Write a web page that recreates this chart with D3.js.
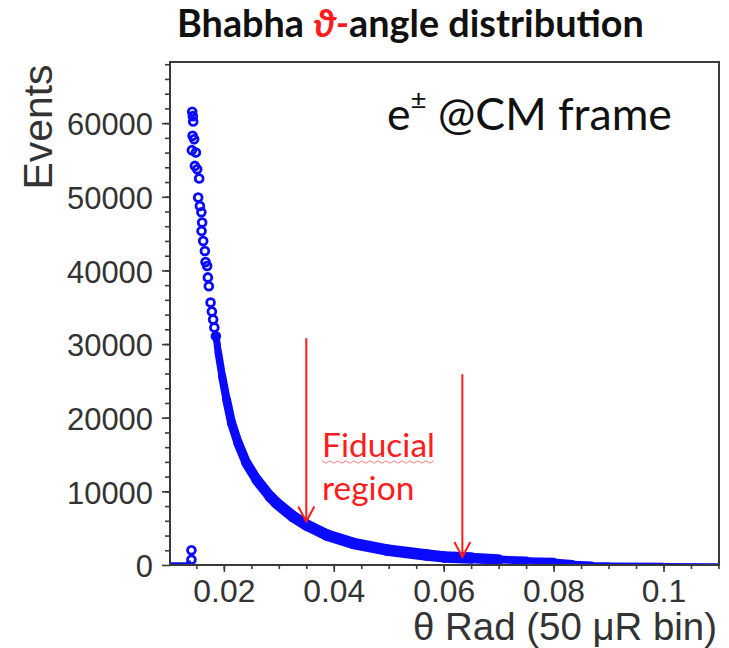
<!DOCTYPE html>
<html>
<head>
<meta charset="utf-8">
<script src="https://cdn.jsdelivr.net/npm/d3@7"></script>
<style>
  body { margin: 0; background: #fff; }
  svg { display: block; }
</style>
</head>
<body>
<svg id="chart" width="729" height="648"></svg>
<script>
// sparse points at the top of the peak (theta rad, events)
const peakPoints = [
  [0.01424, 61540], [0.01436, 60950], [0.01442, 60230], [0.01431, 58270],
  [0.01460, 57820], [0.01418, 56330], [0.01491, 56010], [0.01473, 54190],
  [0.01515, 53740], [0.01551, 52480], [0.01533, 49890], [0.01564, 48750],
  [0.01591, 47890], [0.01605, 46490], [0.01594, 45350], [0.01624, 43990],
  [0.01655, 42630], [0.01667, 41130], [0.01696, 40590], [0.01709, 39050],
  [0.01727, 37860], [0.01758, 35650], [0.01782, 34420], [0.01805, 33330],
  [0.01827, 32240], [0.01855, 31060]
];
// dense band of bins after the peak
const bandPoints = [
  [0.0186, 31000], [0.0190, 28800], [0.0197, 25600], [0.0205, 22450],
  [0.0214, 19300], [0.0226, 16550], [0.0241, 13850], [0.0260, 11550],
  [0.0284, 9300], [0.0296, 8400], [0.0326, 6570], [0.0350, 5440],
  [0.0387, 4080], [0.0435, 2950], [0.0496, 2040], [0.0569, 1360],
  [0.0600, 1100], [0.0650, 950], [0.0700, 750], [0.0750, 610],
  [0.0800, 520], [0.0835, 340], [0.0870, 220], [0.0900, 190],
  [0.1000, 130], [0.1100, 100]
];
// low bins before the peak
const lowBins = [[0.0103, 200], [0.0132, 250], [0.0140, 500]];
const lonePoints = [[0.0141, 2000], [0.0141, 700]];
// fiducial region arrows
const arrows = [
  { theta: 0.0350, top: 30800, tip: 5900 },
  { theta: 0.0634, top: 25900, tip: 1090 }
];
const yTicks = [0, 10000, 20000, 30000, 40000, 50000, 60000];
const xTicks = [0.02, 0.04, 0.06, 0.08, 0.1];

const svg = d3.select("#chart");
const m = { left: 170, right: 719, top: 62, bottom: 565 };

const x = d3.scaleLinear().domain([0.0102, 0.1101]).range([m.left, m.right]);
const y = d3.scaleLinear().domain([0, 68300]).range([m.bottom, m.top]);
const blue = "#0a0aff";
const red = "#ff1c1c";
const axisColor = "#3a3a3a";

// fit a text element to a target width
function fit(text, width) {
  const size = +text.attr("font-size");
  const len = text.node().getComputedTextLength();
  text.attr("font-size", (size * width) / len);
  return (size * width) / len;
}

svg.append("defs").append("clipPath").attr("id", "plot")
  .append("rect").attr("x", m.left).attr("y", m.top)
  .attr("width", m.right - m.left).attr("height", m.bottom - m.top);

// title
const title = svg.append("text")
  .attr("x", 177).attr("y", 37)
  .attr("font-family", "Lato, 'Open Sans', sans-serif")
  .attr("font-weight", "bold").attr("font-size", 30).attr("fill", "#111");
title.append("tspan").text("Bhabha ");
title.append("tspan").attr("fill", red).attr("font-style", "italic").text("ϑ-");
title.append("tspan").text("angle distribution");
fit(title, 467);

// data marks
const g = svg.append("g").attr("clip-path", "url(#plot)");
const width = d3.scaleLinear()
  .domain([0.0186, 0.021, 0.03, 0.066, 0.072, 0.08, 0.084, 0.088, 0.11])
  .range([7, 9, 11.5, 11.5, 8, 6, 4, 2.5, 2]);
const line = d3.line().x(d => x(d[0])).y(d => y(d[1]));

g.append("path").datum(lowBins)
  .attr("d", line).attr("fill", "none")
  .attr("stroke", blue).attr("stroke-width", 2.5);

g.selectAll("path.band")
  .data(d3.pairs(bandPoints))
  .join("path").attr("class", "band")
  .attr("d", line).attr("fill", "none")
  .attr("stroke", blue).attr("stroke-linecap", "round")
  .attr("stroke-width", d => width((d[0][0] + d[1][0]) / 2));

g.selectAll("circle.pt")
  .data(peakPoints.concat(lonePoints))
  .join("circle").attr("class", "pt")
  .attr("cx", d => x(d[0])).attr("cy", d => y(d[1]))
  .attr("r", 3.9).attr("fill", "none")
  .attr("stroke", blue).attr("stroke-width", 2.8);

// axes
const axisFont = "'Liberation Sans', Arial, sans-serif";
const yAxis = svg.append("g").attr("transform", `translate(${m.left},0)`)
  .call(d3.axisLeft(y).tickValues(yTicks).tickSize(8).tickPadding(9)
    .tickFormat(d3.format("d")));
svg.append("g").attr("transform", `translate(${m.left},0)`)
  .call(d3.axisLeft(y).tickValues(d3.range(2000, 68001, 2000)).tickSize(5)
    .tickFormat(""));
const xAxis = svg.append("g").attr("transform", `translate(0,${m.bottom})`)
  .call(d3.axisBottom(x).tickValues(xTicks).tickSize(7).tickPadding(7)
    .tickFormat(d => String(+d.toFixed(2))));
svg.append("g").attr("transform", `translate(0,${m.bottom})`)
  .call(d3.axisBottom(x).tickValues(d3.range(0.015, 0.1101, 0.005)).tickSize(4)
    .tickFormat(""));

svg.selectAll(".domain").remove();
svg.selectAll(".tick line").attr("stroke", axisColor).attr("stroke-width", 1.6);
svg.selectAll(".tick text").attr("fill", "#333").attr("font-family", axisFont);

yAxis.selectAll("text").attr("font-size", 30);
const ySize = fit(yAxis.select(".tick:last-of-type text"), 86);
yAxis.selectAll("text").attr("font-size", ySize).attr("dy", "0.38em");
xAxis.selectAll("text").attr("font-size", 30);
const xSize = fit(xAxis.select(".tick text"), 62);
xAxis.selectAll("text").attr("font-size", xSize);

// frame
svg.append("rect")
  .attr("x", m.left).attr("y", m.top)
  .attr("width", m.right - m.left).attr("height", m.bottom - m.top)
  .attr("fill", "none").attr("stroke", axisColor).attr("stroke-width", 2);

// axis titles
const yTitle = svg.append("text")
  .attr("transform", "translate(52,127) rotate(-90)")
  .attr("text-anchor", "middle")
  .attr("font-family", axisFont).attr("font-size", 40).attr("fill", "#333")
  .text("Events");
fit(yTitle, 125);

const xTitle = svg.append("text")
  .attr("x", 717).attr("y", 640).attr("text-anchor", "end")
  .attr("font-family", axisFont).attr("font-size", 34).attr("fill", "#333")
  .text("θ Rad (50 μR bin)");
fit(xTitle, 304);

// frame label
const frameLabel = svg.append("text")
  .attr("x", 387).attr("y", 130)
  .attr("font-family", "Lato, 'Open Sans', sans-serif")
  .attr("font-size", 40).attr("fill", "#111");
frameLabel.append("tspan").text("e");
frameLabel.append("tspan").attr("font-size", "0.62em").attr("dy", "-0.75em").text("±");
frameLabel.append("tspan").attr("dy", "0.47em").text(" @CM frame");
fit(frameLabel, 285);

// arrows
const arrowG = svg.append("g").attr("stroke", red).attr("stroke-width", 2)
  .attr("fill", "none");
arrowG.selectAll("line")
  .data(arrows)
  .join("line")
  .attr("x1", d => x(d.theta)).attr("x2", d => x(d.theta))
  .attr("y1", d => y(d.top)).attr("y2", d => y(d.tip));
arrowG.selectAll("path")
  .data(arrows)
  .join("path")
  .attr("d", d => {
    const tx = x(d.theta), ty = y(d.tip);
    return `M${tx - 8},${ty - 15}L${tx},${ty}L${tx + 8},${ty - 15}`;
  });

// fiducial label
const fidFont = "Lato, 'Open Sans', sans-serif";
const fid = svg.append("text")
  .attr("x", 322).attr("y", 457)
  .attr("font-family", fidFont).attr("font-size", 30).attr("fill", red)
  .text("Fiducial");
const fidSize = fit(fid, 113);
svg.append("text")
  .attr("x", 322).attr("y", 500)
  .attr("font-family", fidFont).attr("font-size", fidSize).attr("fill", red)
  .text("region");
// spell-check squiggle under "Fiducial"
const squiggle = d3.range(0, 29).map(i => [322 + i * 4, 462 + (i % 2 ? 1.2 : -1.2)]);
svg.append("path")
  .attr("d", d3.line()(squiggle))
  .attr("fill", "none").attr("stroke", "#f08080").attr("stroke-width", 1);
</script>
</body>
</html>
